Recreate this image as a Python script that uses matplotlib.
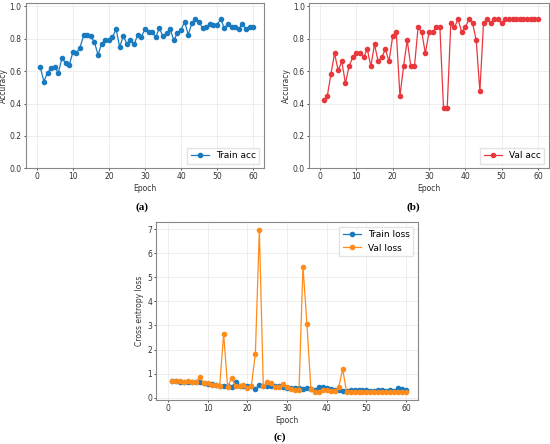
import matplotlib.pyplot as plt
import numpy as np

epochs = np.arange(1, 61)

train_acc = [0.625, 0.535, 0.59, 0.62, 0.625, 0.59, 0.68, 0.65, 0.635, 0.715,
             0.71, 0.745, 0.82, 0.82, 0.815, 0.78, 0.70, 0.77, 0.79, 0.795,
             0.81, 0.86, 0.75, 0.815, 0.77, 0.795, 0.765, 0.825, 0.81, 0.86,
             0.84, 0.84, 0.81, 0.865, 0.815, 0.835, 0.86, 0.79, 0.835, 0.855,
             0.905, 0.825, 0.895, 0.92, 0.905, 0.865, 0.875, 0.89, 0.885, 0.885,
             0.92, 0.865, 0.89, 0.875, 0.875, 0.86, 0.89, 0.86, 0.87, 0.875]

val_acc = [0.42, 0.445, 0.58, 0.71, 0.605, 0.66, 0.525, 0.63, 0.685, 0.71,
           0.71, 0.685, 0.735, 0.63, 0.765, 0.66, 0.685, 0.735, 0.66, 0.815,
           0.84, 0.445, 0.63, 0.79, 0.63, 0.63, 0.87, 0.84, 0.71, 0.84,
           0.84, 0.87, 0.87, 0.37, 0.37, 0.895, 0.87, 0.92, 0.84, 0.87,
           0.92, 0.895, 0.79, 0.475, 0.895, 0.92, 0.895, 0.92, 0.92, 0.895,
           0.92, 0.92, 0.92, 0.92, 0.92, 0.92, 0.92, 0.92, 0.92, 0.92]

train_loss = [0.70, 0.68, 0.66, 0.65, 0.63, 0.65, 0.65, 0.65, 0.62, 0.58,
              0.56, 0.52, 0.47, 0.47, 0.47, 0.45, 0.63, 0.50, 0.47, 0.48,
              0.48, 0.37, 0.52, 0.50, 0.50, 0.50, 0.50, 0.48, 0.45, 0.40,
              0.42, 0.38, 0.40, 0.35, 0.42, 0.35, 0.32, 0.45, 0.45, 0.38,
              0.35, 0.33, 0.32, 0.28, 0.28, 0.32, 0.32, 0.32, 0.30, 0.30,
              0.28, 0.28, 0.32, 0.32, 0.28, 0.30, 0.28, 0.38, 0.35, 0.30]

val_loss = [0.70, 0.70, 0.68, 0.63, 0.70, 0.63, 0.65, 0.85, 0.60, 0.60,
            0.52, 0.52, 0.48, 2.65, 0.45, 0.80, 0.50, 0.48, 0.52, 0.42,
            0.50, 1.82, 6.97, 0.48, 0.63, 0.62, 0.44, 0.44, 0.55, 0.45,
            0.35, 0.30, 0.32, 5.45, 3.05, 0.35, 0.22, 0.25, 0.30, 0.30,
            0.27, 0.27, 0.43, 1.18, 0.24, 0.25, 0.25, 0.22, 0.22, 0.22,
            0.24, 0.25, 0.24, 0.23, 0.23, 0.23, 0.24, 0.22, 0.22, 0.22]

blue = '#1a7abf'
red = '#e8383d'
orange = '#ff8c1a'

fig = plt.figure(figsize=(5.5, 4.44), dpi=100)


def style(ax):
    ax.grid(True, color='#ebebeb', linewidth=0.6)
    ax.set_axisbelow(True)
    for s in ax.spines.values():
        s.set_color('#888888')
        s.set_linewidth(0.8)
    ax.tick_params(labelsize=5.5, length=1.5, width=0.6, colors='#333333', pad=1.5)
    ax.set_xlabel('Epoch', fontsize=5.5, labelpad=2, color='#333333')


ax1 = fig.add_axes([0.047, 0.621, 0.433, 0.372])
ax1.plot(epochs, train_acc, '-o', color=blue, lw=0.9, ms=3, label='Train acc')
ax1.set_ylim(0, 1.02)
ax1.set_xlim(-3, 63)
ax1.set_yticks(np.arange(0, 1.01, 0.2))
ax1.set_ylabel('Accuracy', fontsize=5.5, labelpad=1, color='#333333')
style(ax1)
ax1.legend(loc='lower right', fontsize=6.5, fancybox=False, edgecolor='#dddddd')

ax2 = fig.add_axes([0.562, 0.621, 0.436, 0.372])
ax2.plot(epochs, val_acc, '-o', color=red, lw=0.9, ms=3, label='Val acc')
ax2.set_ylim(0, 1.02)
ax2.set_xlim(-3, 63)
ax2.set_yticks(np.arange(0, 1.01, 0.2))
ax2.set_ylabel('Accuracy', fontsize=5.5, labelpad=1, color='#333333')
style(ax2)
ax2.legend(loc='lower right', fontsize=6.5, fancybox=False, edgecolor='#dddddd')

ax3 = fig.add_axes([0.284, 0.099, 0.476, 0.401])
ax3.plot(epochs, train_loss, '-o', color=blue, lw=0.9, ms=3, label='Train loss')
ax3.plot(epochs, val_loss, '-o', color=orange, lw=0.9, ms=3, label='Val loss')
ax3.set_ylim(-0.1, 7.3)
ax3.set_xlim(-3, 63)
ax3.set_yticks(range(0, 8))
ax3.set_ylabel('Cross entropy loss', fontsize=5.5, labelpad=2, color='#333333')
style(ax3)
ax3.legend(loc='upper right', fontsize=6.5, fancybox=False, edgecolor='#dddddd')

fig.text(0.258, 0.534, '(a)', fontsize=8, fontweight='bold', family='Liberation Serif',
         ha='center', va='center')
fig.text(0.751, 0.534, '(b)', fontsize=8, fontweight='bold', family='Liberation Serif',
         ha='center', va='center')
fig.text(0.509, 0.016, '(c)', fontsize=8, fontweight='bold', family='Liberation Serif',
         ha='center', va='center')

fig.savefig('out.png', dpi=100)
